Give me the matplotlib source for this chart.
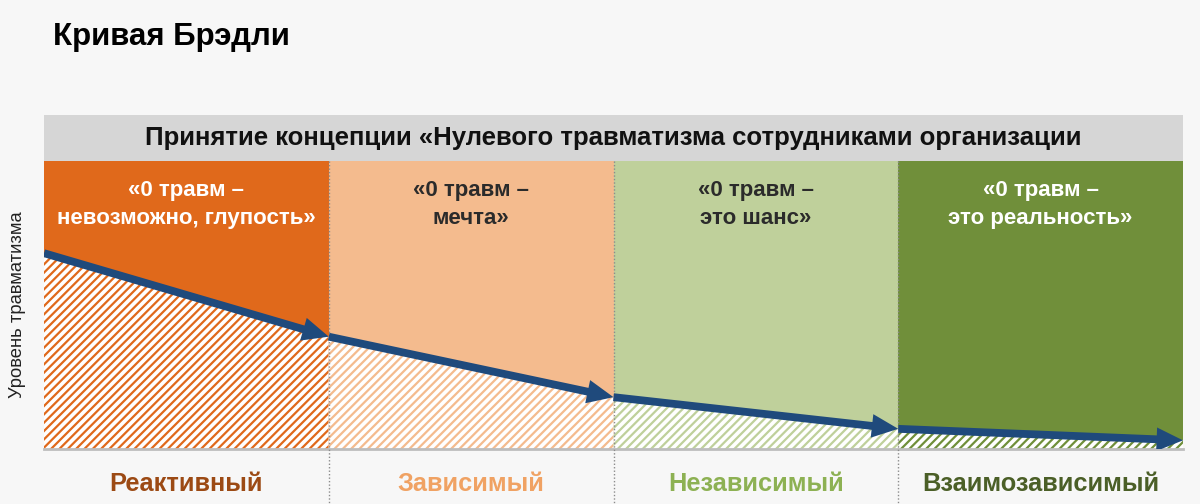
import matplotlib
matplotlib.use("Agg")
import matplotlib.pyplot as plt
from matplotlib.patches import Rectangle, FancyArrowPatch

plt.rcParams["font.family"] = ["Liberation Sans", "DejaVu Sans"]
plt.rcParams["hatch.linewidth"] = 1.6

# --- data ---
stages = ["Реактивный", "Зависимый", "Независимый", "Взаимозависимый"]
beliefs = [
    "«0 травм –\nневозможно, глупость»",
    "«0 травм –\nмечта»",
    "«0 травм –\nэто шанс»",
    "«0 травм –\nэто реальность»",
]
# injury level at the stage boundaries (0 = bottom, 1 = top of panel)
injury_level = [0.68, 0.39, 0.18, 0.07, 0.03]

title = "Кривая Брэдли"
header = "Принятие концепции «Нулевого травматизма сотрудниками организации"
ylabel = "Уровень травматизма"

panel_colors = ["#E0691B", "#F4BB8E", "#BFD09B", "#708F3A"]
belief_colors = ["white", "#2B2B2B", "#2B2B2B", "white"]
stage_colors = ["#9C4A14", "#F0A263", "#8DB153", "#4B5F27"]
arrow_color = "#1F4A7C"
bg = "#F7F7F7"

fig = plt.figure(figsize=(12, 5.04), dpi=100, facecolor=bg)
W, H = 1200, 504
left, right, top, bottom = 44, 1183, 161, 449
ax = fig.add_axes([left / W, 1 - bottom / H, (right - left) / W, (bottom - top) / H])
ax.set_xlim(0, len(stages))
ax.set_ylim(0, 1)
ax.axis("off")

# panels + hatched area under the curve
for i, col in enumerate(panel_colors):
    ax.axvspan(i, i + 1, color=col, lw=0, zorder=1)
    ax.fill_between([i, i + 1], [injury_level[i], injury_level[i + 1]], 0,
                    facecolor="white", edgecolor=col, hatch="////", lw=0, zorder=2)
    ax.text(i + 0.5, 0.85, beliefs[i], ha="center", va="center", fontsize=16,
            fontweight="bold", color=belief_colors[i], linespacing=1.45, zorder=5)
    ax.text(i + 0.5, -0.12, stages[i], ha="center", va="center", fontsize=18.3,
            fontweight="bold", color=stage_colors[i], clip_on=False)

# bottom shadow line
ax.plot([0, len(stages)], [0, 0], color="#BDBDBD", lw=2, zorder=3, clip_on=False)

# dotted boundaries
for b in range(1, len(stages)):
    ax.plot([b, b], [1, -0.19], transform=ax.get_xaxis_transform(), color="#8C8C8C",
            lw=1, ls=(0, (1, 1.5)), zorder=4, clip_on=False)

# arrows
for i in range(len(stages)):
    arr = FancyArrowPatch((i, injury_level[i]), (i + 1, injury_level[i + 1]),
                          arrowstyle="simple,head_length=0.95,head_width=0.85,tail_width=0.28",
                          mutation_scale=20, color=arrow_color, lw=0,
                          shrinkA=0, shrinkB=0, zorder=6)
    ax.add_patch(arr)

# header band
hh = 46 / (bottom - top)
ax.add_patch(Rectangle((0, 1), 1, hh, transform=ax.transAxes, facecolor="#D6D6D6",
                       edgecolor="none", clip_on=False, zorder=1))
ax.text(0.5, 1 + hh / 2, header, transform=ax.transAxes, ha="center", va="center",
        fontsize=18.5, fontweight="bold", color="#111111")

fig.text(53 / W, 1 - 37 / H, title, ha="left", va="center", fontsize=22.5,
         fontweight="bold", color="black")
fig.text(18 / W, 1 - 305 / H, ylabel, ha="center", va="center", rotation=90,
         fontsize=13.2, color="#222222")

fig.savefig("out.png", dpi=100, facecolor=bg)
